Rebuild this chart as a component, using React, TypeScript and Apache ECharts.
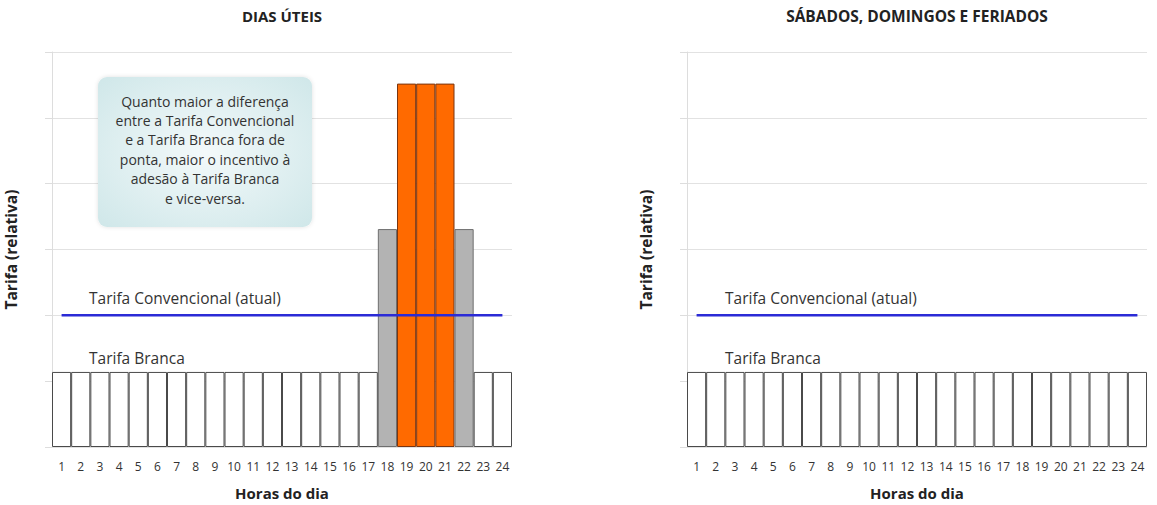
import React, { useEffect, useRef } from "react";
import * as echarts from "echarts";

const hours = ["1","2","3","4","5","6","7","8","9","10","11","12","13","14","15","16","17","18","19","20","21","22","23","24"];

const weekdayTariff = [1.14,1.14,1.14,1.14,1.14,1.14,1.14,1.14,1.14,1.14,1.14,1.14,1.14,1.14,1.14,1.14,1.14,3.31,5.52,5.52,5.52,3.31,1.14,1.14];
const weekdayPeriod = ["fora","fora","fora","fora","fora","fora","fora","fora","fora","fora","fora","fora","fora","fora","fora","fora","fora","inter","ponta","ponta","ponta","inter","fora","fora"];

const weekendTariff = [1.14,1.14,1.14,1.14,1.14,1.14,1.14,1.14,1.14,1.14,1.14,1.14,1.14,1.14,1.14,1.14,1.14,1.14,1.14,1.14,1.14,1.14,1.14,1.14];
const weekendPeriod = ["fora","fora","fora","fora","fora","fora","fora","fora","fora","fora","fora","fora","fora","fora","fora","fora","fora","fora","fora","fora","fora","fora","fora","fora"];

const conventional = [2,2,2,2,2,2,2,2,2,2,2,2,2,2,2,2,2,2,2,2,2,2,2,2];

const titles = ["DIAS ÚTEIS", "SÁBADOS, DOMINGOS E FERIADOS"];
const noteLines = [
  "Quanto maior a diferença",
  "entre a Tarifa Convencional",
  "e a Tarifa Branca fora de",
  "ponta, maior o incentivo à",
  "adesão à Tarifa Branca",
  "e vice-versa.",
];

const FONT = "'Open Sans', Lato, sans-serif";

const periodStyle: Record<string, any> = {
  fora: { color: "#ffffff", borderColor: "#4a4a4a", borderWidth: 1 },
  inter: { color: "#b3b3b3", borderColor: "#6e6e6e", borderWidth: 1 },
  ponta: { color: "#ff6a00", borderColor: "#7a3510", borderWidth: 1 },
};

function barData(values: number[], periods: string[]) {
  return values.map((v, i) => ({ value: v, itemStyle: periodStyle[periods[i]] }));
}

export default function App() {
  const ref = useRef<HTMLDivElement>(null);
  useEffect(() => {
    const chart = echarts.init(ref.current!, null, { renderer: "svg" });
    const grids = [
      { left: 52, right: 645, top: 52, bottom: 58, outerBoundsMode: "none", containLabel: false },
      { left: 687, right: 10, top: 52, bottom: 58, outerBoundsMode: "none", containLabel: false },
    ];
    const xAxis = [0, 1].map((i) => ({
      type: "category",
      gridIndex: i,
      data: hours,
      name: "Horas do dia",
      nameLocation: "middle",
      nameGap: 38,
      nameTextStyle: { fontFamily: FONT, fontWeight: "bold", fontSize: 15, color: "#222" },
      axisLine: { show: false },
      axisTick: { show: false },
      axisLabel: { fontFamily: FONT, fontSize: 12, color: "#333", margin: 13, interval: 0 },
    }));
    const yAxis = [0, 1].map((i) => ({
      type: "value",
      gridIndex: i,
      min: 0,
      max: 6,
      interval: 1,
      name: "Tarifa (relativa)",
      nameLocation: "middle",
      nameRotate: 90,
      nameGap: 33,
      nameTextStyle: { fontFamily: FONT, fontWeight: "bold", fontSize: 15.5, color: "#222" },
      axisLine: { show: true, lineStyle: { color: "#dddddd" } },
      axisTick: { show: true, length: 7, lineStyle: { color: "#dddddd" } },
      axisLabel: { show: false },
      splitLine: { show: true, lineStyle: { color: "#e2e2e2" } },
    }));
    const labelText = (x: number, y: number, text: string) => ({
      type: "text",
      x,
      y,
      style: { text, fontFamily: FONT, fontSize: 15.5, fill: "#333", textVerticalAlign: "middle" },
      z: 100,
    });
    chart.setOption({
      animation: false,
      title: [
        { text: titles[0], left: 282, top: 8, textAlign: "center", padding: 0,
          textStyle: { fontFamily: FONT, fontWeight: "bold", fontSize: 15, color: "#222" } },
        { text: titles[1], left: 917, top: 8, textAlign: "center", padding: 0,
          textStyle: { fontFamily: FONT, fontWeight: "bold", fontSize: 15.5, color: "#222" } },
      ],
      grid: grids,
      xAxis,
      yAxis,
      series: [
        { type: "bar", xAxisIndex: 0, yAxisIndex: 0, barCategoryGap: "0%", data: barData(weekdayTariff, weekdayPeriod), z: 2 },
        { type: "line", xAxisIndex: 0, yAxisIndex: 0, data: conventional, symbol: "none",
          lineStyle: { color: "#2b2bd6", width: 2.5 }, z: 5 },
        { type: "bar", xAxisIndex: 1, yAxisIndex: 1, barCategoryGap: "0%", data: barData(weekendTariff, weekendPeriod), z: 2 },
        { type: "line", xAxisIndex: 1, yAxisIndex: 1, data: conventional, symbol: "none",
          lineStyle: { color: "#2b2bd6", width: 2.5 }, z: 5 },
      ],
      graphic: [
        {
          type: "rect",
          shape: { x: 98, y: 77, width: 214, height: 150, r: 9 },
          style: {
            fill: new echarts.graphic.RadialGradient(0.5, 0.5, 0.75, [
              { offset: 0, color: "#f3f9fa" },
              { offset: 1, color: "#cde6e8" },
            ]),
            shadowBlur: 4,
            shadowColor: "rgba(0,0,0,0.12)",
          },
          z: 50,
        },
        ...noteLines.map((t, i) => ({
          type: "text",
          x: 205,
          y: 101 + i * 19.4,
          style: { text: t, fontFamily: FONT, fontSize: 14, fill: "#333", textAlign: "center", textVerticalAlign: "middle" },
          z: 60,
        })),
        labelText(89, 298, "Tarifa Convencional (atual)"),
        labelText(89, 358, "Tarifa Branca"),
        labelText(725, 298, "Tarifa Convencional (atual)"),
        labelText(725, 358, "Tarifa Branca"),
      ],
    });
    return () => chart.dispose();
  }, []);
  return <div ref={ref} style={{ position: "absolute", left: 0, top: 0, width: 1157, height: 505, background: "#fff" }} />;
}
